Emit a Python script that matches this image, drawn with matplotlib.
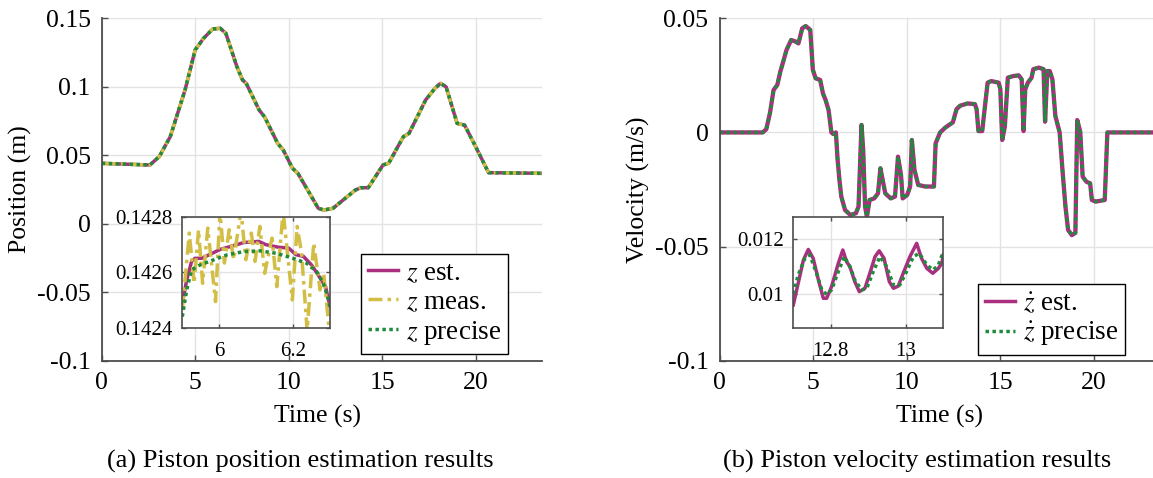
import matplotlib
matplotlib.use("Agg")
import matplotlib.pyplot as plt
import numpy as np

plt.rcParams['font.family'] = ['Liberation Serif', 'DejaVu Serif']
plt.rcParams['mathtext.fontset'] = 'stix'

# ---------------- data ----------------
# Piston position (main plot), time in s, position in m
pos_t = [0.0, 2.57, 3.07, 3.66, 4.45, 4.99, 5.44, 5.93, 6.33, 6.63, 7.22, 7.52, 7.72,
         8.41, 8.70, 9.40, 9.69, 10.19, 10.48, 11.57, 11.87, 12.36, 13.55, 13.85, 14.24,
         15.03, 15.33, 16.12, 16.42, 17.31, 17.81, 18.10, 18.40, 18.99, 19.39, 19.98,
         20.67, 23.5]
pos_est = [0.0441, 0.0429, 0.0490, 0.0636, 0.0977, 0.1269, 0.1354, 0.1422, 0.1427, 0.1390,
           0.1147, 0.1050, 0.1025, 0.0830, 0.0780, 0.0587, 0.0540, 0.0405, 0.0368, 0.0113,
           0.0100, 0.0113, 0.0246, 0.0263, 0.0263, 0.0429, 0.0441, 0.0636, 0.0660, 0.0904,
           0.0989, 0.1025, 0.1000, 0.0733, 0.0720, 0.0563, 0.0373, 0.0368]
pos_meas = pos_est
pos_precise = pos_est

# Position inset (zoom around the first peak)
ins_est_t = [5.900, 5.912, 5.925, 5.934, 5.952, 5.975, 6.002, 6.029, 6.067, 6.107, 6.127,
             6.160, 6.188, 6.208, 6.228, 6.250, 6.268, 6.288, 6.300]
ins_est = [0.142488, 0.142572, 0.142638, 0.142650, 0.142650, 0.142664, 0.142682, 0.142692,
           0.142707, 0.142711, 0.142699, 0.142690, 0.142687, 0.142663, 0.142657, 0.142626,
           0.142590, 0.142548, 0.142476]
ins_meas_t = [5.900, 5.919, 5.932, 5.944, 5.955, 5.969, 5.990, 6.002, 6.014, 6.027, 6.039,
              6.059, 6.072, 6.087, 6.097, 6.110, 6.123, 6.143, 6.156, 6.173, 6.198, 6.211,
              6.223, 6.238, 6.256, 6.273, 6.283, 6.298]
ins_meas = [0.142464, 0.142741, 0.142560, 0.142753, 0.142560, 0.142759, 0.142494, 0.142820,
            0.142633, 0.142753, 0.142645, 0.142820, 0.142645, 0.142741, 0.142639, 0.142765,
            0.142596, 0.142723, 0.142548, 0.142820, 0.142500, 0.142765, 0.142669, 0.142390,
            0.142705, 0.142536, 0.142596, 0.142390]
ins_prec_t = [5.900, 5.912, 5.925, 5.948, 5.984, 6.020, 6.065, 6.110, 6.155, 6.200, 6.237,
              6.264, 6.282, 6.296, 6.300]
ins_prec = [0.142440, 0.142536, 0.142608, 0.142626, 0.142644, 0.142662, 0.142674, 0.142677,
            0.142668, 0.142650, 0.142632, 0.142602, 0.142560, 0.142500, 0.142470]

# Piston velocity (main plot), m/s
vel_t = [0.0, 2.31, 2.50, 2.70, 2.89, 3.09, 3.25, 3.38, 3.58, 3.83, 4.07, 4.22, 4.42, 4.61,
         4.85, 4.99, 5.14, 5.38, 5.53, 5.67, 5.83, 5.98, 6.08, 6.22, 6.31, 6.41, 6.51, 6.71,
         7.00, 7.29, 7.43, 7.59, 7.68, 7.78, 7.88, 8.02, 8.27, 8.47, 8.60, 8.72, 8.86, 9.15,
         9.38, 9.54, 9.70, 9.79, 10.03, 10.19, 10.28, 10.42, 10.62, 11.00, 11.46, 11.55,
         11.79, 12.08, 12.47, 12.67, 12.86, 13.26, 13.65, 13.74, 13.84, 14.04, 14.17, 14.33,
         14.53, 14.92, 15.01, 15.11, 15.25, 15.41, 15.70, 15.99, 16.15, 16.25, 16.34, 16.48,
         16.68, 16.77, 17.07, 17.32, 17.40, 17.52, 17.65, 17.79, 17.95, 18.18, 18.34, 18.49,
         18.63, 18.83, 19.02, 19.12, 19.28, 19.41, 19.61, 19.81, 19.90, 20.10, 20.59, 20.73,
         23.5]
vel_est = [0.0, 0.0, 0.0014, 0.0086, 0.0186, 0.0208, 0.0266, 0.0303, 0.0361, 0.0405, 0.0398,
           0.0390, 0.0456, 0.0466, 0.0449, 0.0274, 0.0237, 0.0230, 0.0171, 0.0142, 0.0098,
           0.0, -0.0007, 0.0, -0.0117, -0.0208, -0.0281, -0.0340, -0.0362, -0.0354, -0.0325,
           0.0033, -0.0077, -0.0325, -0.0369, -0.0296, -0.0289, -0.0267, -0.0157, -0.0208,
           -0.0267, -0.0289, -0.0281, -0.0106, -0.0186, -0.0289, -0.0274, -0.0237, -0.0033,
           -0.0164, -0.0230, -0.0237, -0.0237, -0.0048, 0.0, 0.0022, 0.0044, 0.0102, 0.0117,
           0.0127, 0.0124, 0.0102, 0.0006, 0.0006, 0.0102, 0.0218, 0.0225, 0.0218, 0.0189,
           -0.0033, 0.0025, 0.0240, 0.0247, 0.0250, 0.0233, 0.0006, 0.0189, 0.0218, 0.0240,
           0.0277, 0.0284, 0.0277, 0.0047, 0.0269, 0.0269, 0.0233, 0.0072, 0.0, -0.0175,
           -0.0325, -0.0427, -0.0450, -0.0440, 0.0054, 0.0003, -0.0194, -0.0216, -0.0223,
           -0.0296, -0.0303, -0.0296, 0.0, 0.0]
vel_precise = vel_est

# Velocity inset
vins_est_t = [12.700, 12.713, 12.727, 12.740, 12.753, 12.767, 12.780, 12.789, 12.802, 12.820,
              12.832, 12.842, 12.851, 12.864, 12.876, 12.891, 12.904, 12.918, 12.929, 12.942,
              12.956, 12.967, 12.980, 12.993, 13.011, 13.029, 13.042, 13.056, 13.072, 13.087,
              13.096, 13.100]
vins_est = [0.00962, 0.01040, 0.01124, 0.01162, 0.01130, 0.01052, 0.00986, 0.00986, 0.01028,
            0.01112, 0.01160, 0.01118, 0.01100, 0.01046, 0.01010, 0.01022, 0.01076, 0.01136,
            0.01157, 0.01130, 0.01046, 0.01022, 0.01030, 0.01076, 0.01136, 0.01184, 0.01130,
            0.01094, 0.01076, 0.01094, 0.01112, 0.01142]
vins_prec_t = [12.700, 12.713, 12.731, 12.744, 12.762, 12.776, 12.789, 12.802, 12.820, 12.836,
               12.851, 12.864, 12.882, 12.896, 12.913, 12.931, 12.949, 12.967, 12.984, 13.002,
               13.020, 13.036, 13.056, 13.073, 13.087, 13.100]
vins_prec = [0.01002, 0.01070, 0.01130, 0.01142, 0.01076, 0.01016, 0.01000, 0.01016, 0.01082,
             0.01136, 0.01100, 0.01052, 0.01016, 0.01022, 0.01082, 0.01136, 0.01100, 0.01034,
             0.01034, 0.01082, 0.01136, 0.01148, 0.01106, 0.01088, 0.01106, 0.01154]

x_ticks = [0, 5, 10, 15, 20]
pos_yticks = [0.15, 0.1, 0.05, 0, -0.05, -0.1]
pos_ylabels = ['0.15', '0.1', '0.05', '0', '-0.05', '-0.1']
vel_yticks = [0.05, 0, -0.05, -0.1]
vel_ylabels = ['0.05', '0', '-0.05', '-0.1']

# ---------------- style ----------------
C_EST = '#A8307F'
C_MEAS = '#D3BE45'
C_PREC = '#1F8B3B'
AX_COL = '#4d4d4d'
GRID_COL = '#e3e3e3'
FS = 18.5
FS_LEG = 19.5
FS_IN = 15
FS_CAP = 19
LW = 2.5
DASHDOT = (0, (4, 1.5, 1, 1.5))
DOTS = (0, (1, 1))

W, H = 1153, 478
fig = plt.figure(figsize=(W / 100, H / 100), dpi=100)


def fr(x0, y0, x1, y1):
    return [x0 / W, 1 - y1 / H, (x1 - x0) / W, (y1 - y0) / H]


def style_main(ax):
    for s in ['top', 'right']:
        ax.spines[s].set_visible(False)
    for s in ['left', 'bottom']:
        ax.spines[s].set_color(AX_COL)
        ax.spines[s].set_linewidth(1.3)
    ax.grid(True, color=GRID_COL, lw=1.0)
    ax.set_axisbelow(True)
    ax.tick_params(direction='in', length=4, width=1.0, color=AX_COL,
                   labelsize=FS, pad=8)


def style_inset(ax):
    for s in ax.spines.values():
        s.set_color(AX_COL)
        s.set_linewidth(1.2)
    ax.grid(True, color=GRID_COL, lw=1.0)
    ax.set_axisbelow(True)
    ax.tick_params(direction='in', length=3, width=1.0, color=AX_COL,
                   labelsize=FS_IN, top=True, right=True)
    ax.tick_params(axis='y', pad=7)
    ax.tick_params(axis='x', pad=10)


def legend(handles, x0, y0):
    lg = fig.legend(handles=handles, loc='upper left',
                    bbox_to_anchor=(x0 / W, 1 - y0 / H), fontsize=FS_LEG,
                    frameon=True, fancybox=False, edgecolor='black', framealpha=1,
                    handlelength=1.1, handletextpad=0.3, borderpad=0.25,
                    labelspacing=0.15, borderaxespad=0)
    lg.get_frame().set_linewidth(1.0)
    return lg


# ---- (a) position ----
ax1 = fig.add_axes(fr(101.8, 18.3, 541.5, 360.7))
style_main(ax1)
ax1.plot(pos_t, pos_est, color=C_EST, lw=LW, solid_joinstyle='round')
ax1.plot(pos_t, pos_meas, color=C_MEAS, lw=LW, linestyle=DASHDOT)
ax1.plot(pos_t, pos_precise, color=C_PREC, lw=LW, linestyle=DOTS)
ax1.set_xlim(0, 23.5)
ax1.set_ylim(-0.1, 0.15)
ax1.set_xticks(x_ticks)
ax1.set_xticklabels([str(v) for v in x_ticks])
ax1.set_yticks(pos_yticks)
ax1.set_yticklabels(pos_ylabels)
ax1.set_xlabel('Time (s)', fontsize=FS, va='center')
ax1.xaxis.set_label_coords(0.49, -0.164)
ax1.set_ylabel('Position (m)', fontsize=FS, va='center')
ax1.yaxis.set_label_coords(-0.184, 0.5)

h1, = ax1.plot([], [], color=C_EST, lw=LW, label='$z$ est.')
h2, = ax1.plot([], [], color=C_MEAS, lw=LW, linestyle=DASHDOT, label='$z$ meas.')
h3, = ax1.plot([], [], color=C_PREC, lw=LW, linestyle=DOTS, label='$z$ precise')
legend([h1, h2, h3], 361, 254)

ins1 = fig.add_axes(fr(182.3, 216.7, 330, 327.7))
style_inset(ins1)
ins1.plot(ins_est_t, ins_est, color=C_EST, lw=LW)
ins1.plot(ins_meas_t, ins_meas, color=C_MEAS, lw=LW, linestyle=DASHDOT)
ins1.plot(ins_prec_t, ins_prec, color=C_PREC, lw=LW, linestyle=DOTS)
ins1.set_xlim(5.9, 6.3)
ins1.set_ylim(0.1424, 0.1428)
ins1.set_xticks([6, 6.2])
ins1.set_xticklabels(['6', '6.2'])
ins1.set_yticks([0.1424, 0.1426, 0.1428])
ins1.set_yticklabels(['0.1424', '0.1426', '0.1428'])

# ---- (b) velocity ----
ax2 = fig.add_axes(fr(719.5, 18.3, 1159.2, 360.7))
style_main(ax2)
ax2.plot(vel_t, vel_est, color=C_EST, lw=LW + 0.6, solid_joinstyle='round')
ax2.plot(vel_t, vel_precise, color=C_PREC, lw=LW, linestyle=DOTS)
ax2.set_xlim(0, 23.5)
ax2.set_ylim(-0.1, 0.05)
ax2.set_xticks(x_ticks)
ax2.set_xticklabels([str(v) for v in x_ticks])
ax2.set_yticks(vel_yticks)
ax2.set_yticklabels(vel_ylabels)
ax2.set_xlabel('Time (s)', fontsize=FS, va='center')
ax2.xaxis.set_label_coords(0.5, -0.164)
ax2.set_ylabel('Velocity (m/s)', fontsize=FS, va='center')
ax2.yaxis.set_label_coords(-0.185, 0.5)

g1, = ax2.plot([], [], color=C_EST, lw=LW, label=r'$\dot{z}$ est.')
g2, = ax2.plot([], [], color=C_PREC, lw=LW, linestyle=DOTS, label=r'$\dot{z}$ precise')
legend([g1, g2], 978, 284.3)

ins2 = fig.add_axes(fr(793.3, 216.7, 943.3, 327.7))
style_inset(ins2)
ins2.plot(vins_est_t, vins_est, color=C_EST, lw=LW)
ins2.plot(vins_prec_t, vins_prec, color=C_PREC, lw=LW, linestyle=DOTS)
ins2.set_xlim(12.7, 13.1)
ins2.set_ylim(0.0088, 0.0128)
ins2.set_xticks([12.8, 13])
ins2.set_xticklabels(['12.8', '13'])
ins2.set_yticks([0.01, 0.012])
ins2.set_yticklabels(['0.01', '0.012'])

# captions
fig.text(300 / W, 1 - 461.7 / H, '(a) Piston position estimation results',
         ha='center', va='center', fontsize=FS_CAP)
fig.text(917.5 / W, 1 - 461.7 / H, '(b) Piston velocity estimation results',
         ha='center', va='center', fontsize=FS_CAP)

fig.savefig('out.png', dpi=100)
